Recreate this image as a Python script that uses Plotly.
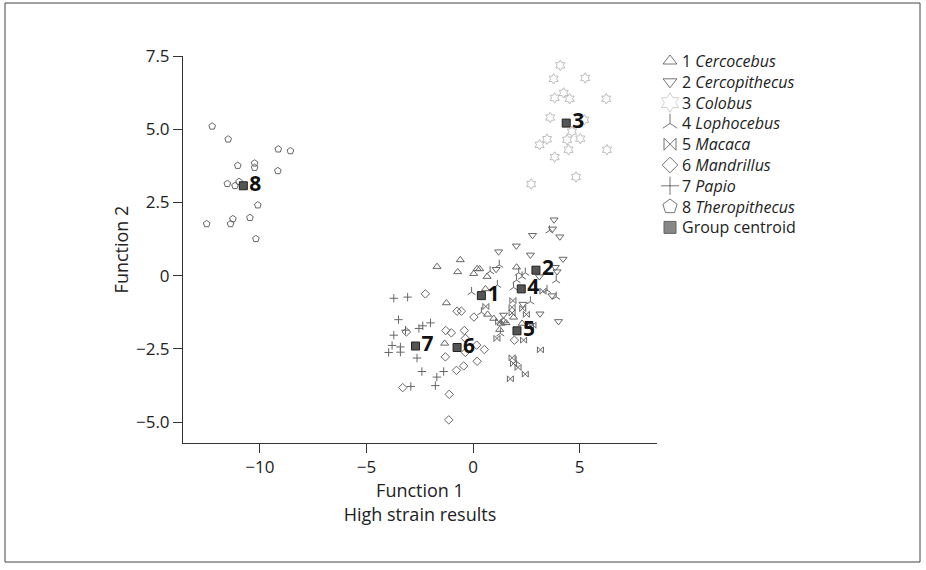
import plotly.graph_objects as go

# ---------------- data ----------------
species = ["1 <i>Cercocebus</i>", "2 <i>Cercopithecus</i>", "3 <i>Colobus</i>",
           "4 <i>Lophocebus</i>", "5 <i>Macaca</i>", "6 <i>Mandrillus</i>",
           "7 <i>Papio</i>", "8 <i>Theropithecus</i>"]
centroid_name = "Group centroid"

cercocebus_x = [-0.60, -1.69, -0.72, 0.03, 0.19, 0.31, 0.66, 2.04, 0.58, -1.25, 0.68, 0.97, 1.31, 1.55, 1.90, 2.30, 1.25, -1.33, 1.43]
cercocebus_y = [0.54, 0.31, 0.13, 0.07, 0.24, 0.23, -0.03, 0.29, -0.45, -0.93, -1.32, -1.46, -1.63, -1.61, -1.42, -1.63, -1.84, -2.31, -1.55]

cercopithecus_x = [3.80, 3.73, 4.07, 2.79, 2.03, 1.20, 2.69, 4.22, 1.08, 3.86, 3.94, 3.11, 3.70, 3.14, 1.43, 2.34, 4.01]
cercopithecus_y = [1.91, 1.60, 1.33, 1.38, 1.02, 0.82, 0.71, 0.57, 0.22, 0.29, 0.14, -0.03, -0.68, -1.30, -1.34, -0.97, -1.56]

colobus_x = [4.09, 3.78, 5.26, 3.83, 4.25, 4.53, 6.25, 3.62, 5.22, 4.64, 3.47, 3.12, 4.41, 5.03, 4.48, 6.28, 3.83, 4.83, 2.73]
colobus_y = [7.18, 6.72, 6.75, 6.07, 6.24, 6.04, 6.04, 5.40, 5.32, 4.92, 4.66, 4.47, 4.64, 4.68, 4.30, 4.30, 4.05, 3.37, 3.13]

lophocebus_x = [-0.07, 1.23, 0.80, 2.14, 2.45, 2.30, 2.04, 1.90, 1.14, 3.58, 3.90, 3.47, 3.90, 2.69, 0.39, 1.28, 2.02]
lophocebus_y = [-0.56, 0.37, 0.15, 0.10, 0.10, -0.03, -0.15, -0.40, -0.32, 1.54, -0.16, -0.49, -0.72, -0.88, -1.25, -1.97, -2.92]

macaca_x = [3.28, 1.87, 2.33, 1.83, 2.50, 1.83, 0.60, 1.20, 2.69, 2.81, 1.12, 2.37, 3.16, 1.83, 1.90, 2.11, 2.45, 1.75]
macaca_y = [-0.53, -0.85, -1.12, -1.08, -1.32, -1.27, -1.05, -1.57, -1.72, -1.69, -2.14, -2.20, -2.53, -2.80, -3.00, -3.13, -3.36, -3.52]

mandrillus_x = [-2.24, -0.75, -0.55, 0.04, -3.13, -1.28, -1.02, -0.41, -0.36, 0.17, 0.53, -0.36, 0.19, -0.44, -0.78, -1.30, -3.30, -1.12, -1.14, 1.94]
mandrillus_y = [-0.62, -1.21, -1.21, -1.41, -1.92, -1.87, -1.95, -1.87, -2.14, -2.37, -2.52, -2.62, -2.92, -3.08, -3.23, -2.77, -3.82, -4.05, -4.92, -2.20]

papio_x = [-3.72, -3.07, -3.50, -3.17, -3.72, -2.54, -2.36, -2.00, -3.80, -3.41, -3.96, -3.41, -2.63, -2.40, -1.38, -1.70, -1.77, -2.92]
papio_y = [-0.77, -0.73, -1.50, -1.86, -2.03, -1.80, -1.71, -1.61, -2.38, -2.43, -2.62, -2.61, -2.81, -3.27, -3.27, -3.46, -3.75, -3.78]

theropithecus_x = [-12.24, -11.49, -9.14, -8.57, -11.04, -10.25, -10.25, -9.16, -11.53, -11.17, -10.98, -10.10, -11.27, -11.38, -10.47, -12.50, -10.19]
theropithecus_y = [5.10, 4.66, 4.32, 4.26, 3.76, 3.84, 3.69, 3.58, 3.14, 3.07, 3.21, 2.41, 1.94, 1.77, 1.98, 1.77, 1.26]

centroid_labels = ["1", "2", "3", "4", "5", "6", "7", "8"]
centroid_x = [0.39, 2.95, 4.37, 2.26, 2.06, -0.75, -2.70, -10.78]
centroid_y = [-0.68, 0.19, 5.21, -0.45, -1.88, -2.45, -2.40, 3.07]

x_tickvals = [-10, -5, 0, 5]
x_ticktext = ["\u221210", "\u22125", "0", "5"]
y_tickvals = [-5, -2.5, 0, 2.5, 5, 7.5]
y_ticktext = ["\u22125.0", "\u22122.5", "0", "2.5", "5.0", "7.5"]

# ---------------- styling / layout constants ----------------
FONT = "Open Sans, Noto Sans, sans-serif"
DARK = "#666666"
LEGEND_DARK = "#3a3a3a"
LIGHT = "#bdbdbd"
W, H = 926, 570
# plot area in pixels (left, right, top, bottom)
PL, PR, PT, PB = 183, 657, 56, 443

styles = [  # symbol, colour, plot size, legend size
    ("triangle-up-open", DARK, 7, 12),
    ("triangle-down-open", DARK, 7, 12),
    ("hexagram-open", LIGHT, 8, 15),
    ("y-up-open", DARK, 6.5, 12),
    ("bowtie-open", DARK, 6, 12),
    ("diamond-open", DARK, 6.5, 12),
    ("cross-thin-open", DARK, 6, 13),
    ("pentagon-open", DARK, 7, 15),
]
groups = [
    (cercocebus_x, cercocebus_y), (cercopithecus_x, cercopithecus_y),
    (colobus_x, colobus_y), (lophocebus_x, lophocebus_y),
    (macaca_x, macaca_y), (mandrillus_x, mandrillus_y),
    (papio_x, papio_y), (theropithecus_x, theropithecus_y),
]

fig = go.Figure()

for name, (xs, ys), (sym, col, sz, _) in zip(species, groups, styles):
    fig.add_trace(go.Scatter(
        x=xs, y=ys, mode="markers", name=name, showlegend=False,
        marker=dict(symbol=sym, size=sz, color=col, line=dict(color=col, width=1))))

fig.add_trace(go.Scatter(
    x=centroid_x, y=centroid_y, mode="markers+text",
    text=["<b>%s</b>" % t for t in centroid_labels],
    textposition="middle right",
    textfont=dict(family=FONT, size=21, color="#111111"),
    marker=dict(symbol="square", size=8, color="#555555", line=dict(color="#222222", width=1)),
    name=centroid_name, showlegend=False))

# ---------------- key (drawn manually for tight row spacing) ----------------
LEG_FONT = 16
LEG_DY = LEG_FONT * 1.3
LEG_SYM_X, LEG_TEXT_X, LEG_Y0 = 670, 681, 61
leg_names = species + [centroid_name]
leg_syms = [s[0] for s in styles] + ["square"]
leg_cols = [(LIGHT if s[1] == LIGHT else LEGEND_DARK) for s in styles] + ["#555555"]
leg_lcols = [(LIGHT if s[1] == LIGHT else LEGEND_DARK) for s in styles] + ["#222222"]
leg_sizes = [s[3] for s in styles] + [12]
leg_py = [LEG_Y0 + LEG_DY * i for i in range(len(leg_names))]

fig.add_trace(go.Scatter(
    x=[LEG_SYM_X] * len(leg_names), y=leg_py, xaxis="x2", yaxis="y2",
    mode="markers", showlegend=False, hoverinfo="skip",
    marker=dict(symbol=leg_syms, size=leg_sizes, color=leg_cols,
                line=dict(color=leg_lcols, width=1))))

leg_center_py = (leg_py[0] + leg_py[-1]) / 2
annotations = [dict(
    x=LEG_TEXT_X / W, y=1 - leg_center_py / H, xref="paper", yref="paper",
    text="<br>".join(leg_names), align="left", showarrow=False,
    xanchor="left", yanchor="middle", borderpad=0,
    font=dict(family=FONT, size=LEG_FONT, color="#222222"))]

axis_common = dict(
    showline=True, linecolor="#333333", linewidth=1, showgrid=False, zeroline=False,
    ticks="outside", ticklen=9, tickcolor="#333333", tickwidth=1,
    tickfont=dict(family=FONT, size=17, color="#222222"), automargin=False,
)

# frame around the whole figure (pixels)
FX0, FY0, FX1, FY1 = 5, 3, 920, 562

fig.update_layout(
    width=W, height=H, autosize=False,
    margin=dict(l=0, r=0, t=0, b=0, autoexpand=False),
    paper_bgcolor="white", plot_bgcolor="rgba(0,0,0,0)",
    font=dict(family=FONT, size=17, color="#222222"),
    xaxis=dict(domain=[PL / W, PR / W], range=[-13.61, 8.63],
               tickvals=x_tickvals, ticktext=x_ticktext,
               title=dict(text="Function 1<br>High strain results",
                          font=dict(family=FONT, size=18, color="#222222"), standoff=4),
               **axis_common),
    yaxis=dict(domain=[1 - PB / H, 1 - PT / H], range=[-5.71, 7.5],
               tickvals=y_tickvals, ticktext=y_ticktext,
               title=dict(text="Function 2", font=dict(family=FONT, size=18, color="#222222"),
                          standoff=2),
               **axis_common),
    xaxis2=dict(domain=[0, 1], range=[0, W], anchor="y2", visible=False),
    yaxis2=dict(domain=[0, 1], range=[H, 0], anchor="x2", visible=False),
    annotations=annotations,
    shapes=[dict(type="rect", xref="paper", yref="paper",
                 x0=FX0 / W, x1=FX1 / W, y0=1 - FY1 / H, y1=1 - FY0 / H,
                 line=dict(color="#444444", width=1), fillcolor="rgba(0,0,0,0)", layer="below")],
    showlegend=False,
)

fig.write_html("out.html", config={"displayModeBar": False},
               post_script="document.body.style.margin='0';")
